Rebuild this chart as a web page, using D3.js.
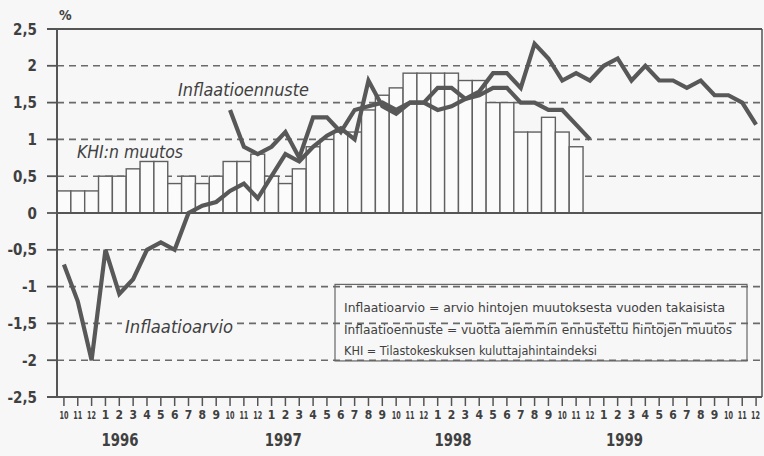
<!DOCTYPE html>
<html><head><meta charset="utf-8">
<script src="https://cdn.jsdelivr.net/npm/d3@7"></script>
<style>
html,body{margin:0;padding:0;background:#f7f7f7;}
svg{display:block;}
text{font-family:"DejaVu Sans Condensed","DejaVu Sans",sans-serif;fill:#404040;}
</style></head><body>
<svg id="chart" width="764" height="456"></svg>
<script>
// Month tick labels (10/1995 .. 12/1999)
const monthLabels = ["10","11","12",
  "1","2","3","4","5","6","7","8","9","10","11","12",
  "1","2","3","4","5","6","7","8","9","10","11","12",
  "1","2","3","4","5","6","7","8","9","10","11","12",
  "1","2","3","4","5","6","7","8","9","10","11","12"];
const yearLabels = ["1996","1997","1998","1999"];
const yearAnchor = [4.05, 15.85, 28.1, 40.5]; // position in months
const yTicks = [2.5,2,1.5,1,0.5,0,-0.5,-1,-1.5,-2,-2.5];
const yTickLabels = ["2,5","2","1,5","1","0,5","0","-0,5","-1","-1,5","-2","-2,5"];

// KHI:n muutos (bars)
const khi = [0.3,0.3,0.3,0.5,0.5,0.6,0.7,0.7,0.4,0.5,0.4,0.5,0.7,0.7,0.8,0.5,0.4,0.6,
  0.9,1.0,1.1,1.1,1.4,1.6,1.7,1.9,1.9,1.9,1.9,1.8,1.8,1.5,1.5,1.1,1.1,1.3,1.1,0.9];
// Inflaatioarvio
const arvio = [-0.7,-1.2,-2.0,-0.5,-1.1,-0.9,-0.5,-0.4,-0.5,0.0,0.1,0.15,0.3,0.4,0.2,0.5,0.8,0.7,
  0.9,1.05,1.15,1.0,1.8,1.45,1.35,1.5,1.5,1.7,1.7,1.55,1.6,1.7,1.7,1.5,1.5,1.4,1.4,1.2,1.0];
// Inflaatioennuste (starts 10/1996)
const ennuste = [null,null,null,null,null,null,null,null,null,null,null,null,
  1.4,0.9,0.8,0.9,1.1,0.75,1.3,1.3,1.1,1.4,1.45,1.5,1.4,1.5,1.5,1.4,1.45,1.55,1.65,1.9,1.9,
  1.7,2.3,2.1,1.8,1.9,1.8,2.0,2.1,1.8,2.0,1.8,1.8,1.7,1.8,1.6,1.6,1.5,1.2];

const legendLines = [
  "Inflaatioarvio = arvio hintojen muutoksesta vuoden takaisista",
  "Inflaatioennuste = vuotta aiemmin ennustettu hintojen muutos",
  "KHI = Tilastokeskuksen kuluttajahintaindeksi"];

const L = 57, R = 763, T = 29, B = 397;
const svg = d3.select("#chart");
const idx = d3.range(monthLabels.length);
const x = d3.scaleBand().domain(idx).range([L, R]).padding(0);
const bw = x.bandwidth();
const xc = d3.scaleLinear().domain([0, monthLabels.length]).range([L, R]);
const y = d3.scaleLinear().domain([-2.5, 2.5]).range([B, T]);
const ink = "#555";

// grid
svg.append("g").selectAll("line").data(yTicks.filter(v => v !== 0 && Math.abs(v) !== 2.5))
  .join("line").attr("x1", L).attr("x2", R - 1).attr("y1", d => y(d)).attr("y2", d => y(d))
  .attr("stroke", "#6a6a6a").attr("stroke-width", 1.6).attr("stroke-dasharray", "7,5");

// legend box (transparent)
svg.append("rect").attr("x", 335).attr("y", y(-0.97)).attr("width", 412).attr("height", y(-2.01) - y(-0.97))
  .attr("fill", "none").attr("stroke", "#666").attr("stroke-width", 1.2);
legendLines.forEach((t, i) => {
  svg.append("text").attr("x", 344).attr("y", 312 + i * 21.5).attr("font-size", 12.5)
    .attr("textLength", [381, 388, 253][i]).attr("lengthAdjust", "spacingAndGlyphs").text(t);
});

// bars
svg.append("g").selectAll("rect").data(khi).join("rect")
  .attr("x", (d, i) => x(i)).attr("width", bw)
  .attr("y", d => y(d)).attr("height", d => y(0) - y(d))
  .attr("fill", "#fbfbfb").attr("stroke", "#606060").attr("stroke-width", 1.4);

// zero line
svg.append("line").attr("x1", L).attr("x2", R - 1).attr("y1", y(0)).attr("y2", y(0))
  .attr("stroke", ink).attr("stroke-width", 2);

// lines
const line = d3.line().defined(d => d != null).x((d, i) => x(i) + bw / 2).y(d => y(d));
[arvio, ennuste].forEach(s => {
  svg.append("path").attr("d", line(s)).attr("fill", "none").attr("stroke", "#585858")
    .attr("stroke-width", 4.2).attr("stroke-linejoin", "miter").attr("stroke-miterlimit", 3);
});

// frame
svg.append("line").attr("x1", L - 10).attr("x2", R - 1).attr("y1", T).attr("y2", T).attr("stroke", ink).attr("stroke-width", 1.8);
svg.append("line").attr("x1", L - 10).attr("x2", R - 1).attr("y1", B).attr("y2", B).attr("stroke", ink).attr("stroke-width", 2);
svg.append("line").attr("x1", L).attr("x2", L).attr("y1", T).attr("y2", B).attr("stroke", ink).attr("stroke-width", 2);
svg.append("line").attr("x1", R - 1).attr("x2", R - 1).attr("y1", T).attr("y2", B).attr("stroke", ink).attr("stroke-width", 1.5);

// y axis ticks & labels
svg.append("g").selectAll("line").data(yTicks).join("line")
  .attr("x1", L - 10).attr("x2", L).attr("y1", d => y(d)).attr("y2", d => y(d))
  .attr("stroke", ink).attr("stroke-width", 1.8);
svg.append("g").selectAll("text").data(yTicks).join("text")
  .attr("x", 37).attr("y", d => y(d) + 5.5).attr("text-anchor", "end")
  .attr("font-size", 15).attr("font-weight", "bold").text((d, i) => yTickLabels[i]);
svg.append("text").attr("x", 59).attr("y", 20).attr("font-size", 14).attr("font-weight", "bold").text("%");

// x ticks & labels
const lastI = idx.length - 1;
svg.append("g").selectAll("line").data(idx).join("line")
  .attr("x1", i => x(i) + bw / 2).attr("x2", i => x(i) + bw / 2).attr("y1", B).attr("y2", B + 9)
  .attr("stroke", ink).attr("stroke-width", 1.5);
svg.append("g").selectAll("text").data(idx).join("text")
  .attr("x", i => x(i) + bw / 2 - (i === lastI ? 0.5 : 0)).attr("y", 419)
  .attr("text-anchor", "middle")
  .attr("font-size", i => monthLabels[i].length > 1 ? 11 : 12).attr("font-weight", "bold")
  .attr("textLength", i => monthLabels[i].length > 1 ? 9 : null)
  .attr("lengthAdjust", "spacingAndGlyphs")
  .text(i => monthLabels[i]);
svg.append("g").selectAll("text").data(yearLabels).join("text")
  .attr("x", (d, i) => xc(yearAnchor[i] + 0.5)).attr("y", 446).attr("text-anchor", "middle")
  .attr("font-size", 18).attr("font-weight", "bold")
  .attr("textLength", 37).attr("lengthAdjust", "spacingAndGlyphs").text(d => d);

// series labels
function label(t, px, py, w, bg) {
  if (bg) {
    svg.append("rect").attr("x", px - 3).attr("y", py - 13).attr("width", w + 6).attr("height", 16).attr("fill", "#f7f7f7");
  }
  svg.append("text").attr("x", px).attr("y", py).attr("font-size", 17).attr("font-style", "italic")
    .attr("fill", "#4a4a4a").attr("textLength", w).attr("lengthAdjust", "spacingAndGlyphs").text(t);
}
label("Inflaatioennuste", 178, 96, 131, false);
label("KHI:n muutos", 77, 158, 106, false);
label("Inflaatioarvio", 125, 333, 108, true);
</script>
</body></html>
